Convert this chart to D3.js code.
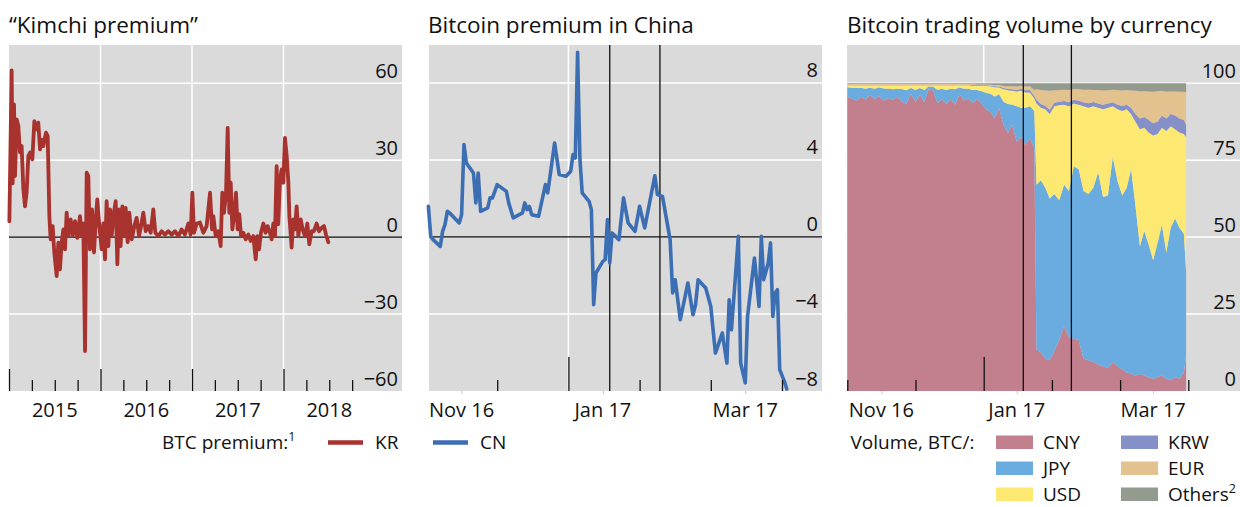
<!DOCTYPE html>
<html><head><meta charset="utf-8">
<script src="https://cdn.jsdelivr.net/npm/d3@7"></script>
<style>
body{margin:0;background:#fff}
text{font-family:'Open Sans',sans-serif;fill:#111}
</style>
</head><body>
<svg id="c" width="1240" height="507"></svg>
<script>
// ---------- Panel 1: "Kimchi premium" (KR BTC premium, %) ----------
const krTime = [
 2015.004,2015.029,2015.040,2015.055,2015.066,2015.084,2015.102,2015.120,2015.138,2015.157,
 2015.175,2015.193,2015.211,2015.230,2015.255,2015.277,2015.302,2015.320,2015.339,2015.357,
 2015.375,2015.404,2015.423,2015.441,2015.455,2015.477,2015.495,2015.521,2015.539,2015.557,
 2015.576,2015.594,2015.612,2015.630,2015.648,2015.674,2015.696,2015.721,2015.747,2015.776,
 2015.794,2015.812,2015.831,2015.849,2015.867,2015.885,2015.907,2015.929,2015.951,2015.965,
 2015.987,2016.013,2016.031,2016.049,2016.067,2016.086,2016.104,2016.122,2016.140,2016.166,
 2016.184,2016.202,2016.220,2016.239,2016.257,2016.275,2016.297,2016.315,2016.341,2016.370,
 2016.395,2016.421,2016.443,2016.468,2016.494,2016.523,2016.548,2016.577,2016.599,2016.632,
 2016.668,2016.705,2016.741,2016.778,2016.814,2016.851,2016.887,2016.923,2016.960,2016.985,
 2017.004,2017.022,2017.051,2017.087,2017.124,2017.160,2017.197,2017.219,2017.233,2017.259,
 2017.288,2017.313,2017.331,2017.350,2017.372,2017.390,2017.408,2017.423,2017.441,2017.463,
 2017.481,2017.499,2017.517,2017.536,2017.561,2017.587,2017.616,2017.641,2017.670,2017.696,
 2017.714,2017.732,2017.754,2017.780,2017.805,2017.827,2017.852,2017.871,2017.889,2017.907,
 2017.925,2017.943,2017.962,2017.980,2017.998,2018.016,2018.035,2018.053,2018.064,2018.089,
 2018.107,2018.126,2018.144,2018.162,2018.188,2018.209,2018.235,2018.260,2018.282,2018.308,
 2018.333,2018.362,2018.388,2018.417,2018.443,2018.464,2018.490];
const krPremium = [
 6.2,65,21,51.7,23.8,45.9,43.3,33,35.5,18.6,
 12,17.4,31.6,33,30.3,45.2,42,44.6,34.2,38,
 35.5,40.7,39.4,8.2,-0.9,4.3,-6,-15.2,-2.2,-12.6,
 -2,3,-4.8,9.5,0.4,6.9,0.4,6.2,-0.3,8.2,
 0.4,5.3,-44.4,25.1,23.8,-4.8,10.8,-6,8.2,14.7,
 4.3,-4.8,5.3,-8.7,14,-3.5,10.8,0.4,8.2,14,
 -10.6,10.8,-3.5,12,0.4,11.4,-2,9.5,-0.9,4.3,
 7.5,0.4,4.3,9.5,2.3,4.3,1.7,10.8,1.7,0.4,
 2.3,1,2.3,1,2.3,0.4,3,1,5.3,1,
 17.3,1.7,5.3,5.7,1.7,4.3,17.3,3,8.2,0.4,
 2.3,-3.5,17.3,9.5,17.3,42.6,9.5,21.2,3,9.5,
 17.3,3,8.9,0.4,1.7,-0.9,1,-1.5,0.4,-8.7,
 0.4,-4.8,1.7,5.3,1.7,4.3,1.7,-0.9,5.3,0.4,
 27.7,5,22.5,26.4,21.2,38.7,31.6,21.2,8.2,-4.1,
 6.9,3,12,0.4,6.9,3,0.4,5.3,-2.8,2.3,
 2.3,5.3,2.3,3.6,4.3,1,-2];
const p1YTicks = [60, 30, 0, -30, -60];
const p1Years = [2015, 2016, 2017, 2018];

// ---------- Panel 2: Bitcoin premium in China (%) ----------
const cnDates = ['2016-11-02','2016-11-03','2016-11-04','2016-11-07','2016-11-08','2016-11-09','2016-11-10','2016-11-11','2016-11-15','2016-11-16',
 '2016-11-17','2016-11-18','2016-11-21','2016-11-22','2016-11-23','2016-11-24','2016-11-27','2016-11-28','2016-11-29','2016-12-01',
 '2016-12-05','2016-12-06','2016-12-08','2016-12-12','2016-12-13','2016-12-14','2016-12-15','2016-12-16','2016-12-19','2016-12-22',
 '2016-12-23','2016-12-26','2016-12-28','2016-12-31','2017-01-02','2017-01-03','2017-01-04','2017-01-05','2017-01-06','2017-01-07',
 '2017-01-10','2017-01-11','2017-01-12','2017-01-13','2017-01-16','2017-01-17','2017-01-18','2017-01-19','2017-01-20','2017-01-23',
 '2017-01-25','2017-01-27','2017-01-30','2017-02-01','2017-02-03','2017-02-07','2017-02-08','2017-02-10','2017-02-13','2017-02-14',
 '2017-02-15','2017-02-17','2017-02-20','2017-02-22','2017-02-23','2017-02-24','2017-02-27','2017-03-01','2017-03-03','2017-03-06',
 '2017-03-08','2017-03-09','2017-03-10','2017-03-13','2017-03-14','2017-03-16','2017-03-17','2017-03-20','2017-03-22','2017-03-23',
 '2017-03-24','2017-03-26','2017-03-27','2017-03-28','2017-03-29','2017-03-30','2017-03-31','2017-04-02','2017-04-03'];
const cnPremium = [1.59,0.03,-0.14,-0.49,0.29,0.64,1.33,1.25,0.73,1.16,
 4.8,3.84,3.32,1.77,3.32,1.33,1.51,2.03,2.03,2.72,
 2.37,1.77,0.99,1.25,1.77,1.42,1.59,1.16,1.07,2.72,
 2.29,4.88,3.24,3.15,3.41,4.28,4.1,9.59,4.1,2.29,
 1.85,1.42,-3.52,-1.87,-1.27,-1.18,0.9,-1.35,0.21,-0.14,
 2.03,0.73,0.29,1.59,0.47,3.18,2.2,2.11,-0.14,-2.91,
 -2.22,-4.3,-2.39,-4.04,-3.52,-2.22,-2.65,-3.61,-6.03,-4.99,
 -6.55,-3.26,-4.82,0.03,-6.55,-7.58,-4.13,-1.09,-3.61,0.03,
 -2.22,-1.35,-0.31,-4.13,-2.91,-2.74,-6.89,-7.5,-7.9];
const p2YTicks = [8, 4, 0, -4, -8];
const eventDates = ['2017-01-19', '2017-02-09'];
const monthStarts = ['2016-11-01','2016-12-01','2017-01-01','2017-02-01','2017-03-01','2017-04-01','2017-05-01'];
const monthLabelDates = ['2016-11-16','2017-01-16','2017-03-16'];
const monthLabels = ['Nov 16','Jan 17','Mar 17'];

// ---------- Panel 3: Bitcoin trading volume by currency (% of BTC volume) ----------
const volDates = ['2016-11-01','2016-11-03','2016-11-05','2016-11-07','2016-11-09','2016-11-11','2016-11-13','2016-11-15','2016-11-17','2016-11-19',
 '2016-11-21','2016-11-23','2016-11-25','2016-11-27','2016-11-29','2016-12-01','2016-12-03','2016-12-05','2016-12-07','2016-12-09',
 '2016-12-11','2016-12-13','2016-12-15','2016-12-17','2016-12-19','2016-12-21','2016-12-23','2016-12-25','2016-12-27','2016-12-29',
 '2016-12-31','2017-01-02','2017-01-04','2017-01-06','2017-01-08','2017-01-10','2017-01-12','2017-01-14','2017-01-16','2017-01-18',
 '2017-01-20','2017-01-22','2017-01-24','2017-01-25','2017-01-27','2017-01-29','2017-01-31','2017-02-02','2017-02-04','2017-02-06',
 '2017-02-08','2017-02-10','2017-02-12','2017-02-14','2017-02-16','2017-02-18','2017-02-20','2017-02-22','2017-02-24','2017-02-26',
 '2017-02-28','2017-03-02','2017-03-04','2017-03-06','2017-03-08','2017-03-10','2017-03-12','2017-03-14','2017-03-16','2017-03-18',
 '2017-03-20','2017-03-22','2017-03-24','2017-03-26','2017-03-28','2017-03-30','2017-03-31'];
const volCNY = [95.5,95.0,94.2,95.6,94.6,96.2,94.8,95.8,94.3,95.2,
 94.6,95.6,94.0,93.2,96.6,94.0,96.2,93.8,98.0,97.6,
 93.5,94.8,93.2,94.6,93.0,96.4,94.4,95.0,93.6,94.8,
 93.4,91.5,90.6,88.5,91.8,86.5,83.8,86.5,81.0,82.5,
 80.0,82.0,79.0,13.5,12.5,10.5,10.0,13.0,16.5,21.0,
 17.5,17.0,16.5,10.5,10.0,9.5,8.5,8.0,7.5,9.5,
 8.0,7.0,6.0,5.5,5.0,5.5,5.0,4.5,4.0,4.5,
 5.0,4.0,3.5,4.5,4.0,6.0,11.5];
const volJPY = [3.2,3.5,4.2,2.9,3.6,2.3,3.4,2.8,4.0,3.0,
 3.4,2.6,4.1,4.5,1.8,3.8,2.2,4.0,0.9,1.2,
 4.4,3.4,4.6,3.6,5.0,2.2,3.8,3.2,4.2,3.0,
 4.0,5.4,6.0,7.2,4.6,7.5,9.4,6.5,11.5,9.5,
 12.0,10.5,12.0,53.5,56.0,55.5,52.5,51.0,45.5,46.0,
 47.5,56.0,55.5,54.5,54.0,56.5,62.5,55.0,56.0,66.5,
 60.0,56.5,60.0,66.5,55.0,41.5,47.0,43.0,38.5,43.5,
 49.0,41.0,49.5,51.5,49.0,45.0,27.5];
const volUSD = [0.6,0.8,0.9,0.8,1.1,0.8,1.1,0.7,1.0,1.1,
 1.3,1.1,1.2,1.6,0.9,1.5,0.9,1.5,0.4,0.5,
 1.4,1.1,1.5,1.1,1.3,0.7,1.1,1.1,1.4,1.3,
 1.7,2.2,2.4,3.0,2.2,4.0,4.5,4.5,4.8,5.5,
 5.0,4.5,4.0,26.4,23.5,25.5,27.5,28.5,30.8,26.0,
 27.5,20.4,21.0,27.5,28.0,26.5,21.0,28.5,28.5,16.5,
 23.5,27.5,25.5,18.0,27.5,38.0,33.5,36.5,40.5,35.5,
 31.5,39.5,33.0,29.0,31.0,32.5,43.5];
const volKRW = [0.2,0.2,0.2,0.2,0.2,0.2,0.2,0.2,0.2,0.2,
 0.2,0.2,0.2,0.2,0.2,0.2,0.2,0.2,0.2,0.2,
 0.2,0.2,0.2,0.2,0.2,0.2,0.2,0.2,0.2,0.2,
 0.2,0.2,0.2,0.3,0.3,0.4,0.5,0.5,0.6,0.6,
 0.7,0.8,0.8,1.2,1.2,1.2,1.4,1.1,1.2,1.2,
 1.3,1.2,1.3,1.3,1.5,1.4,1.4,1.5,1.4,1.3,
 1.5,1.6,1.5,2.0,2.5,3.5,3.5,4.0,4.0,4.0,
 4.0,4.0,4.0,4.5,4.5,4.5,4.0];
const volEUR = [0.2,0.2,0.2,0.2,0.2,0.2,0.2,0.2,0.2,0.2,
 0.2,0.2,0.2,0.2,0.2,0.2,0.2,0.2,0.2,0.2,
 0.2,0.2,0.2,0.2,0.2,0.2,0.2,0.2,0.3,0.3,
 0.3,0.3,0.3,0.4,0.5,0.7,0.8,1.0,1.0,1.0,
 1.2,1.2,2.0,3.4,4.6,4.9,6.1,4.1,3.8,3.7,
 4.0,3.4,3.7,4.1,4.4,3.9,4.4,4.6,4.3,4.1,
 4.8,5.0,4.8,5.6,7.5,8.8,8.4,9.3,10.2,9.9,
 8.0,8.7,7.3,7.8,8.7,9.2,10.5];
const volOthers = [0.3,0.3,0.3,0.3,0.3,0.3,0.3,0.3,0.3,0.3,
 0.3,0.3,0.3,0.3,0.3,0.3,0.3,0.3,0.3,0.3,
 0.3,0.3,0.3,0.3,0.3,0.3,0.3,0.3,0.3,0.4,
 0.4,0.4,0.5,0.6,0.6,0.9,1.0,1.0,1.1,0.9,
 1.1,1.0,2.2,2.0,2.2,2.4,2.5,2.3,2.2,2.1,
 2.2,2.0,2.0,2.1,2.1,2.2,2.2,2.4,2.3,2.1,
 2.2,2.4,2.2,2.4,2.5,2.7,2.6,2.7,2.8,2.6,
 2.5,2.8,2.7,2.7,2.8,2.8,3.0];
const p3YTicks = [100, 75, 50, 25, 0];
const currencies = ['CNY','JPY','USD','KRW','EUR','Others'];
const currencyColors = ['#c27f8e','#6aacdf','#fde872','#8590c8','#e2c28f','#939a8e'];

// ---------- drawing ----------
const svg = d3.select('#c');
const TOP = 45, BOT = 391, BG = '#dadada';
const parse = d3.utcParse('%Y-%m-%d');
const mStarts = monthStarts.map(parse);

function background(l, r){
  svg.append('rect').attr('x', l).attr('y', TOP).attr('width', r - l).attr('height', BOT - TOP).attr('fill', BG);
}
function title(x, t){
  svg.append('text').attr('x', x).attr('y', 33).attr('font-size', 22.5).text(t);
}
function hGrid(y, ticks, l, r, skip){
  ticks.filter(v => !skip.includes(v)).forEach(v => {
    svg.append('line').attr('x1', l).attr('x2', r).attr('y1', y(v)).attr('y2', y(v))
      .attr('stroke', '#fff').attr('stroke-width', 1.5);
  });
}
function vLine(x, color, w, y1 = TOP, y2 = BOT){
  svg.append('line').attr('x1', x).attr('x2', x).attr('y1', y1).attr('y2', y2)
    .attr('stroke', color).attr('stroke-width', w);
}
function yLabels(y, ticks, r){
  ticks.forEach(v => {
    svg.append('text').attr('x', r - 4).attr('y', y(v) - 5.5).attr('text-anchor', 'end')
      .attr('font-size', 20).text(v < 0 ? '\u2212' + Math.abs(v) : v);
  });
}
function ticks(scale, vals, len){
  const g = svg.append('g').attr('transform', `translate(0,${BOT})`)
    .call(d3.axisBottom(scale).tickValues(vals).tickSize(-len).tickFormat(''));
  g.select('.domain').remove();
  g.selectAll('line').attr('stroke', '#111').attr('stroke-width', 1.3);
}
function xLabels(scale, vals, texts, light){
  if (light) {
    const g = svg.append('g').attr('transform', `translate(0,${BOT})`)
      .call(d3.axisBottom(scale).tickValues(vals).tickSize(3).tickFormat(''));
    g.select('.domain').remove();
    g.selectAll('line').attr('stroke', '#c8c8c8');
  }
  vals.forEach((v, i) => {
    svg.append('text').attr('x', scale(v)).attr('y', 417).attr('text-anchor', 'middle')
      .attr('font-size', 20).text(texts[i]);
  });
}

// Panel 1
{
  const L = 9, R = 402;
  const x = d3.scaleLinear().domain([2015, 2019]).range([9, 375]);
  const y = d3.scaleLinear().domain([-60, 74.9]).range([BOT, TOP]);
  background(L, R);
  hGrid(y, p1YTicks, L, R, [0, -60]);
  p1Years.slice(1).forEach(yr => vLine(x(yr), '#fff', 1.5));
  svg.append('line').attr('x1', L).attr('x2', R).attr('y1', y(0)).attr('y2', y(0)).attr('stroke', '#111').attr('stroke-width', 1.3);
  const pts = krTime.map((t, i) => [t, krPremium[i]]);
  svg.append('path').datum(pts).attr('fill', 'none').attr('stroke', '#a8322d').attr('stroke-width', 3.8)
    .attr('stroke-linejoin', 'round').attr('stroke-linecap', 'round')
    .attr('d', d3.line().x(d => x(d[0])).y(d => y(d[1])));
  ticks(x, p1Years, 22);
  const quarters = [];
  p1Years.forEach(yr => [0.25, 0.5, 0.75].forEach(q => quarters.push(yr + q)));
  ticks(x, quarters, 11);
  yLabels(y, p1YTicks, R);
  xLabels(x, p1Years.map(v => v + 0.5), p1Years.map(String), false);
  title(9, '\u201CKimchi premium\u201D');
}

// Panel 2
{
  const L = 429, R = 822;
  const x = d3.scaleUtc().domain(mStarts).range(mStarts.map((d, i) => 426 + i * 71.2));
  const y = d3.scaleLinear().domain([-8, 9.97]).range([BOT, TOP]);
  background(L, R);
  hGrid(y, p2YTicks, L, R, [0, -8]);
  vLine(x(parse('2017-01-01')), '#fff', 1.5);
  svg.append('line').attr('x1', L).attr('x2', R).attr('y1', y(0)).attr('y2', y(0)).attr('stroke', '#111').attr('stroke-width', 1.3);
  eventDates.forEach(d => vLine(x(parse(d)), '#111', 1.3));
  const pts = cnDates.map((d, i) => [parse(d), cnPremium[i]]);
  svg.append('path').datum(pts).attr('fill', 'none').attr('stroke', '#3c6eb4').attr('stroke-width', 3.6)
    .attr('stroke-linejoin', 'round').attr('stroke-linecap', 'round')
    .attr('d', d3.line().x(d => x(d[0])).y(d => y(d[1])));
  ticks(x, [mStarts[2]], 34);
  ticks(x, [mStarts[1], mStarts[3], mStarts[4], mStarts[5]], 11);
  yLabels(y, p2YTicks, R);
  xLabels(x, monthLabelDates.map(parse), monthLabels, true);
  title(428, 'Bitcoin premium in China');
}

// Panel 3
{
  const L = 847, R = 1240;
  const x = d3.scaleUtc().domain(mStarts).range(mStarts.map((d, i) => 847.3 + i * 68.2));
  const y = d3.scaleLinear().domain([0, 112.4]).range([BOT, TOP]);
  background(L, R);
  hGrid(y, p3YTicks, L, R, [0]);
  vLine(x(parse('2017-01-01')), '#fff', 1.5);
  const series = [volCNY, volJPY, volUSD, volKRW, volEUR, volOthers];
  const table = volDates.map((d, i) => {
    const row = {date: parse(d)};
    currencies.forEach((c, k) => row[c] = series[k][i]);
    return row;
  });
  const stacked = d3.stack().keys(currencies)(table);
  const area = d3.area().x(d => x(d.data.date)).y0(d => y(d[0])).y1(d => y(d[1]));
  svg.append('g').selectAll('path').data(stacked).join('path')
    .attr('fill', (d, i) => currencyColors[i]).attr('d', area);
  eventDates.forEach(d => vLine(x(parse(d)), '#111', 1.3));
  ticks(x, [mStarts[2]], 34);
  ticks(x, [mStarts[0], mStarts[1], mStarts[3], mStarts[4], mStarts[5]], 11);
  yLabels(y, p3YTicks, R);
  xLabels(x, monthLabelDates.map(parse), monthLabels, true);
  title(847, 'Bitcoin trading volume by currency');
}

const LEG_BASE = 449, LEG_FS = 19;
// Legend panels 1-2
{
  const t = svg.append('text').attr('x', 162).attr('y', LEG_BASE).attr('font-size', LEG_FS).text('BTC premium:');
  t.append('tspan').attr('font-size', 12.5).attr('dy', -8.5).text('1');
  [['KR', '#a8322d', 328], ['CN', '#3c6eb4', 433]].forEach(([lab, col, x0]) => {
    svg.append('line').attr('x1', x0).attr('x2', x0 + 35).attr('y1', LEG_BASE - 6.5).attr('y2', LEG_BASE - 6.5)
      .attr('stroke', col).attr('stroke-width', 4.5);
    svg.append('text').attr('x', x0 + 47).attr('y', LEG_BASE).attr('font-size', LEG_FS).text(lab);
  });
}
// Legend panel 3
{
  const dy = 26;
  svg.append('text').attr('x', 850.5).attr('y', LEG_BASE).attr('font-size', LEG_FS).text('Volume, BTC/:');
  const pos = [[0,0],[0,1],[0,2],[1,0],[1,1],[1,2]];
  currencies.forEach((c, i) => {
    const [col, row] = pos[i];
    const sx = col ? 1121 : 996;
    const yb = LEG_BASE + row * dy;
    svg.append('rect').attr('x', sx).attr('y', yb - 13.5).attr('width', 37).attr('height', 13.5).attr('fill', currencyColors[i]);
    const t = svg.append('text').attr('x', sx + 47).attr('y', yb).attr('font-size', LEG_FS).text(c);
    if (c === 'Others') t.append('tspan').attr('font-size', 12.5).attr('dy', -8.5).text('2');
  });
}
</script>
</body></html>
